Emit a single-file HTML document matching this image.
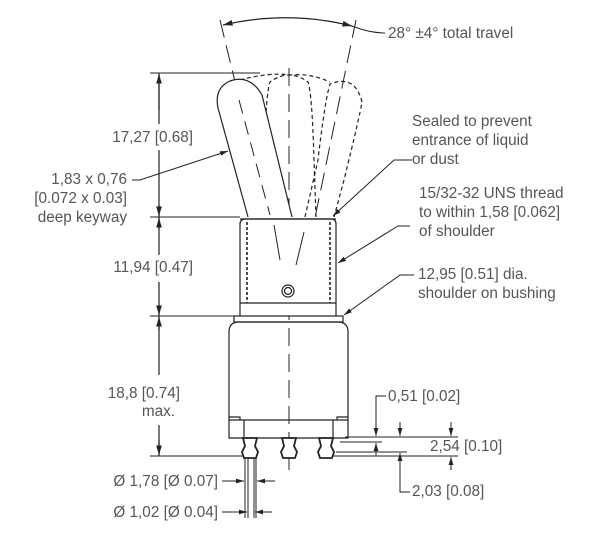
<!DOCTYPE html>
<html><head><meta charset="utf-8"><style>
html,body{margin:0;padding:0;background:#fff}
svg{display:block}
text{font-family:"Liberation Sans",sans-serif;font-size:15.3px;fill:#555}
</style></head><body>
<svg width="609" height="540" viewBox="0 0 609 540" xmlns="http://www.w3.org/2000/svg">
<defs><marker id="a" viewBox="0 0 10 10" refX="10" refY="5" markerWidth="8" markerHeight="8" orient="auto-start-reverse"><path d="M0,2 L10,5 L0,8z" fill="#222"/></marker></defs>
<g stroke="#222" fill="none" stroke-width="1.2">
<line x1="220" y1="20" x2="288" y2="300" stroke-dasharray="18,8" stroke-width="1"/>
<line x1="356" y1="20" x2="300" y2="290" stroke-dasharray="18,8" stroke-width="1"/>
<line x1="289" y1="68" x2="289" y2="470" stroke-dasharray="18,8" stroke-width="1"/>
<path d="M223,25 Q288,10 352,26" marker-start="url(#a)" marker-end="url(#a)"/>
<path d="M352,26 Q370,33 385,33" stroke-width="1"/>
<path d="M262,217 L264,160 Q266,92 270,82 Q289,68 308,82 Q312,92 314,160 L316,217" stroke-dasharray="4,3"/>
<path d="M305,217 L318,160 Q325,100 330,84 Q355,74 362,102 Q360,115 344,180 L334,217" stroke-dasharray="4,3"/>
<path d="M240,80 Q270,72 290,75 Q310,73 330,82" stroke-dasharray="4,3"/>
<path d="M248,217 L218,108 Q214,88 230,81 Q250,74 262,95 L292,217" fill="#fff"/>
<line x1="239" y1="100" x2="270" y2="215" stroke-dasharray="14,8" stroke-width="1"/>
<path d="M240,316 L240,224 Q240,219 246,219 L331,219 Q336,219 336,224 L336,316" fill="#fff"/>
<line x1="240" y1="219" x2="336" y2="219"/>
<line x1="247" y1="222" x2="247" y2="303" stroke-dasharray="3,2" stroke-width="1.6"/>
<line x1="330" y1="222" x2="330" y2="303" stroke-dasharray="3,2" stroke-width="1.6"/>
<line x1="240" y1="303" x2="336" y2="303"/>
<line x1="274" y1="225" x2="280" y2="260" stroke-width="1"/>
<line x1="304" y1="232" x2="296" y2="265" stroke-width="1"/>
<circle cx="288" cy="291" r="6"/><circle cx="288" cy="291" r="3.5"/>
<rect x="234" y="316" width="109" height="6"/>
<path d="M229,438 L229,332 Q229,322 239,322 L338,322 Q348,322 348,332 L348,438 Z"/>
<line x1="229" y1="420" x2="348" y2="420"/>
<path d="M229,417 L240,417 L240,420 M348,417 L337,417 L337,420"/>
<line x1="244" y1="420" x2="244" y2="438"/><line x1="333" y1="420" x2="333" y2="438"/>
<g fill="#fff" stroke-width="1.8">
<path d="M243,438 L257,438 L255,446 L258,452 L256,458 L244,458 L242,452 L245,446 Z"/>
<path d="M282,438 L296,438 L294,446 L297,452 L295,458 L283,458 L281,452 L284,446 Z"/>
<path d="M319,438 L333,438 L331,446 L334,452 L332,458 L320,458 L318,452 L321,446 Z"/>
</g>
<line x1="159" y1="73" x2="159" y2="124"/><line x1="159" y1="150" x2="159" y2="255"/><line x1="159" y1="282" x2="159" y2="375"/><line x1="159" y1="425" x2="159" y2="456"/>
<line x1="150" y1="73" x2="260" y2="73" stroke-width="1"/>
<line x1="150" y1="217" x2="240" y2="217" stroke-width="1"/>
<line x1="150" y1="316" x2="234" y2="316" stroke-width="1"/>
<line x1="150" y1="456" x2="244" y2="456" stroke-width="1"/>
<line x1="159" y1="110" x2="159" y2="74" marker-end="url(#a)"/>
<line x1="159" y1="205" x2="159" y2="216" marker-end="url(#a)"/>
<line x1="159" y1="230" x2="159" y2="218" marker-end="url(#a)"/>
<line x1="159" y1="305" x2="159" y2="315" marker-end="url(#a)"/>
<line x1="159" y1="330" x2="159" y2="317" marker-end="url(#a)"/>
<line x1="159" y1="440" x2="159" y2="455" marker-end="url(#a)"/>
<path d="M132,180 L140,180 L228,151" marker-end="url(#a)" stroke-width="1"/>
<path d="M412,160 L394,160 L333,216" marker-end="url(#a)" stroke-width="1"/>
<path d="M410,226 L398,226 L338,263" marker-end="url(#a)" stroke-width="1"/>
<path d="M414,275 L400,275 L344,315" marker-end="url(#a)" stroke-width="1"/>
<line x1="345" y1="437" x2="458" y2="437" stroke-width="1"/>
<line x1="340" y1="442" x2="382" y2="442" stroke-width="1"/>
<line x1="336" y1="452" x2="407" y2="452" stroke-width="1"/>
<line x1="333" y1="456" x2="458" y2="456" stroke-width="1"/>
<path d="M386,396 L376,396 L376,436" marker-end="url(#a)" stroke-width="1"/>
<line x1="376" y1="456" x2="376" y2="443" marker-end="url(#a)" stroke-width="1"/>
<line x1="400" y1="422" x2="400" y2="436" marker-end="url(#a)" stroke-width="1"/>
<path d="M410,492 L400,492 L400,453" marker-end="url(#a)" stroke-width="1"/>
<line x1="451" y1="422" x2="451" y2="436" marker-end="url(#a)" stroke-width="1"/>
<line x1="451" y1="470" x2="451" y2="457" marker-end="url(#a)" stroke-width="1"/>
<line x1="245" y1="458" x2="245" y2="518" stroke-width="1"/><line x1="256" y1="458" x2="256" y2="518" stroke-width="1"/>
<line x1="248" y1="458" x2="248" y2="518" stroke-width="1"/><line x1="254" y1="458" x2="254" y2="518" stroke-width="1"/>
<line x1="222" y1="481" x2="244" y2="481" marker-end="url(#a)" stroke-width="1"/>
<line x1="275" y1="481" x2="257" y2="481" marker-end="url(#a)" stroke-width="1"/>
<line x1="222" y1="512" x2="247" y2="512" marker-end="url(#a)" stroke-width="1"/>
<line x1="272" y1="512" x2="255" y2="512" marker-end="url(#a)" stroke-width="1"/>
</g>
<text x="388" y="38">28° ±4° total travel</text>
<text x="193" y="142" text-anchor="end">17,27 [0.68]</text>
<text x="127" y="184" text-anchor="end">1,83 x 0,76</text>
<text x="127" y="203" text-anchor="end">[0.072 x 0.03]</text>
<text x="127" y="222" text-anchor="end">deep keyway</text>
<text x="193" y="272" text-anchor="end">11,94 [0.47]</text>
<text x="180" y="398" text-anchor="end">18,8 [0.74]</text>
<text x="175" y="416" text-anchor="end">max.</text>
<text x="412" y="126">Sealed to prevent</text>
<text x="412" y="145">entrance of liquid</text>
<text x="412" y="164">or dust</text>
<text x="419" y="198">15/32-32 UNS thread</text>
<text x="419" y="217">to within 1,58 [0.062]</text>
<text x="419" y="236">of shoulder</text>
<text x="418" y="279">12,95 [0.51] dia.</text>
<text x="418" y="298">shoulder on bushing</text>
<text x="388" y="401">0,51 [0.02]</text>
<text x="430" y="451">2,54 [0.10]</text>
<text x="412" y="496">2,03 [0.08]</text>
<text x="218" y="486" text-anchor="end">Ø 1,78 [Ø 0.07]</text>
<text x="218" y="517" text-anchor="end">Ø 1,02 [Ø 0.04]</text>
</svg>
</body></html>
